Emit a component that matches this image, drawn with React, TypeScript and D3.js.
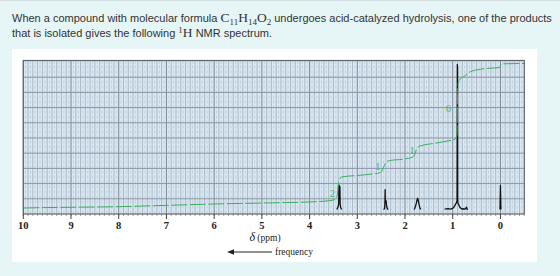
import React from "react";
import * as d3 from "d3";

// ---- data ----
const tickPpm = [10, 9, 8, 7, 6, 5, 4, 3, 2, 1, 0];
const tickLabels = ["10", "9", "8", "7", "6", "5", "4", "3", "2", "1", "0"];

// integral curve (ppm, cumulative H)
const integralPpm = [10, 9.6, 9, 8, 7, 6, 5, 4.5, 4, 3.6, 3.5, 3.45, 3.42, 3.4, 3.38, 3.35, 3.3, 3.0, 2.7, 2.52, 2.47, 2.43, 2.39, 2.33, 2.0, 1.85, 1.8, 1.76, 1.72, 1.65, 1.4, 1.1, 0.95, 0.92, 0.91, 0.9, 0.89, 0.86, 0.77, 0.63, 0.42, 0.2, 0.02, -0.01, -0.04, -0.5];
const integralH = [0, 0.03, 0.06, 0.11, 0.22, 0.33, 0.41, 0.45, 0.5, 0.6, 0.66, 0.75, 1.08, 1.9, 2.35, 2.5, 2.59, 2.69, 2.81, 2.92, 3.15, 3.55, 3.82, 3.92, 4.06, 4.2, 4.39, 4.85, 5.07, 5.17, 5.34, 5.55, 5.69, 5.9, 6.2, 8.9, 10.2, 10.6, 10.87, 11.28, 11.48, 11.57, 11.62, 11.85, 11.93, 11.96];

const integralLabels = ["2", "1", "1", "6"];
const integralLabelPpm = [3.52, 2.57, 1.85, 1.09];
const integralLabelH = [1.22, 3.42, 4.72, 8.25];

// spectrum traces (ppm, intensity)
const peak34Ppm = [3.43, 3.40, 3.39, 3.385, 3.38, 3.375, 3.37, 3.365, 3.36, 3.35, 3.33];
const peak34Int = [0, 2, 4, 16, 16.5, 9, 10, 15.5, 4, 1.5, 0];
const peak24Ppm = [2.45, 2.43, 2.425, 2.42, 2.417, 2.414, 2.405, 2.395, 2.385, 2.37, 2.35];
const peak24Int = [0, 0.5, 2, 6, 13.5, 6.5, 6.2, 5.5, 2, 0.5, 0];
const peak17Ppm = [1.81, 1.795, 1.785, 1.775, 1.765, 1.755, 1.745, 1.735, 1.725, 1.715, 1.705, 1.695, 1.685, 1.67];
const peak17Int = [0, 0.8, 1.8, 2.8, 4, 5.5, 6.8, 7.6, 6.6, 5, 3.4, 2, 0.8, 0];
const peak09Ppm = [1.17, 1.1, 1.05, 1.0, 0.98, 0.96, 0.94, 0.925, 0.91, 0.904, 0.901, 0.898, 0.895, 0.89, 0.88, 0.865, 0.85, 0.83, 0.81, 0.79, 0.74, 0.72, 0.71, 0.7, 0.68];
const peak09Int = [0.3, 0.6, 0.3, 0.8, 1.5, 2.5, 3.6, 4.4, 6, 98.4, 40, 97, 6, 4.2, 3.8, 2.5, 1.5, 0.8, 0.3, 0.5, 0.2, 1.2, 1.5, 0.3, 0];
const tmsPpm = [0.01, 0.0, -0.01];
const tmsInt = [0, 16.3, 0];

const spectra = [
  { p: peak34Ppm, v: peak34Int },
  { p: peak24Ppm, v: peak24Int },
  { p: peak17Ppm, v: peak17Int },
  { p: peak09Ppm, v: peak09Int },
  { p: tmsPpm, v: tmsInt },
];

// ---- layout ----
const W = 560, H = 276;
const plotL = 23.3, plotR = 524.3, plotT = 60.5, plotB = 214;

export default function App() {
  const x = d3.scaleLinear().domain([10, -0.5]).range([plotL, plotR]);
  const ySpec = d3.scaleLinear().domain([0, 100]).range([209.5, 62]);
  const yInt = d3.scaleLinear().domain([0, 12]).range([208, 63]);
  const gridY = d3.scaleLinear().domain([0, 10]).range([plotB, plotT + 1.5]);

  const vLines: { px: number; kind: number }[] = [];
  for (let i = 0; i <= 210; i++) {
    const ppm = 10 - i * 0.05;
    if (ppm < -0.5 + 1e-6) continue;
    const kind = i % 20 === 0 ? 2 : i % 2 === 0 ? 1 : 0;
    vLines.push({ px: x(ppm), kind });
  }
  const minorTicks: number[] = [];
  for (let i = 0; i <= 105; i++) minorTicks.push(10 - i * 0.1);

  const intLine = d3
    .line<number>()
    .x((d, i) => x(integralPpm[i]))
    .y((d) => yInt(d))
    .curve(d3.curveMonotoneX);

  const specLine = (s: { p: number[]; v: number[] }) =>
    d3
      .line<number>()
      .x((d, i) => x(s.p[i]))
      .y((d) => ySpec(d))(s.v) || "";

  const sans = "'Liberation Sans', Arial, sans-serif";
  const serif = "'Liberation Serif', 'Times New Roman', serif";

  return (
    <div style={{ position: "absolute", left: 0, top: 0 }}>
      <svg width={W} height={H} style={{ display: "block" }}>
        <rect x={0} y={0} width={W} height={H} fill="#e6f6f7" />
        <rect x={0} y={0} width={W} height={1} fill="#d4dfe2" />
        {/* title */}
        <text x={12} y={22} fontFamily={sans} fontSize={11} fill="#333">
          When a compound with molecular formula{" "}
          <tspan fontFamily={serif} fontSize={13.5}>C</tspan>
          <tspan fontFamily={serif} fontSize={9} dy={3}>11</tspan>
          <tspan fontFamily={serif} fontSize={13.5} dy={-3}>H</tspan>
          <tspan fontFamily={serif} fontSize={9} dy={3}>14</tspan>
          <tspan fontFamily={serif} fontSize={13.5} dy={-3}>O</tspan>
          <tspan fontFamily={serif} fontSize={9} dy={3}>2</tspan>
          <tspan dy={-3}> undergoes acid-catalyzed hydrolysis, one of the products</tspan>
        </text>
        <text x={12} y={37} fontFamily={sans} fontSize={11} fill="#333">
          that is isolated gives the following{" "}
          <tspan fontFamily={serif} fontSize={9} dy={-4}>1</tspan>
          <tspan fontFamily={serif} fontSize={13.5} dy={4}>H</tspan>
          <tspan> NMR spectrum.</tspan>
        </text>

        {/* white panel */}
        <rect x={12} y={49} width={525} height={213} fill="#ffffff" />

        {/* plot background */}
        <rect x={plotL} y={plotT} width={plotR - plotL} height={plotB - plotT} fill="#dae8f3" />
        {vLines.map((l, i) =>
          l.kind === 0 ? (
            <line key={"v" + i} x1={l.px} x2={l.px} y1={plotT} y2={plotB} stroke="#b9c8d4" strokeWidth={0.8} strokeDasharray="3,2" />
          ) : l.kind === 1 ? (
            <line key={"v" + i} x1={l.px} x2={l.px} y1={plotT} y2={plotB} stroke="#9eafbc" strokeWidth={0.8} />
          ) : (
            <line key={"v" + i} x1={l.px} x2={l.px} y1={plotT} y2={plotB} stroke="#7c8790" strokeWidth={1} />
          )
        )}
        {d3.range(1, 10).map((k) => (
          <line key={"h" + k} x1={plotL} x2={plotR} y1={gridY(k)} y2={gridY(k)} stroke="#8a969f" strokeWidth={1} />
        ))}

        {/* spectrum */}
        {spectra.map((s, i) => (
          <path key={"s" + i} d={specLine(s)} fill="none" stroke="#111" strokeWidth={1.3} strokeLinejoin="round" />
        ))}

        {/* integral */}
        <path d={intLine(integralH) || ""} fill="none" stroke="#3dab5f" strokeWidth={1} strokeDasharray="16,2.5" />
        {integralLabels.map((t, i) => (
          <text key={"il" + i} x={x(integralLabelPpm[i])} y={yInt(integralLabelH[i])} fontFamily={serif} fontSize={10.5} fill="#4cb36a" textAnchor="middle" dominantBaseline="central">
            {t}
          </text>
        ))}

        {/* frame */}
        <rect x={plotL} y={plotT} width={plotR - plotL} height={plotB - plotT} fill="none" stroke="#5f666b" strokeWidth={1.2} />

        {/* ticks */}
        {minorTicks.map((p, i) => (
          <line key={"mt" + i} x1={x(p)} x2={x(p)} y1={plotB} y2={plotB + 2} stroke="#777" strokeWidth={0.7} />
        ))}
        {tickPpm.map((p, i) => (
          <g key={"t" + i}>
            <line x1={x(p)} x2={x(p)} y1={plotB} y2={plotB + 5} stroke="#444" strokeWidth={1} />
            <text x={x(p)} y={229} fontFamily={serif} fontSize={10.5} fill="#222" textAnchor="middle" fontWeight="bold">
              {tickLabels[i]}
            </text>
          </g>
        ))}

        {/* axis title */}
        <text x={265} y={241} fontFamily={serif} fill="#222" textAnchor="middle">
          <tspan fontSize={12} fontStyle="italic">δ</tspan>
          <tspan fontSize={9.5}> (ppm)</tspan>
        </text>
        <line x1={231} x2={272} y1={252} y2={252} stroke="#222" strokeWidth={1} />
        <path d="M227,252 L234,249.3 L234,254.7 Z" fill="#222" />
        <text x={275} y={255} fontFamily={serif} fontSize={9.5} fill="#222">
          frequency
        </text>
      </svg>
    </div>
  );
}
